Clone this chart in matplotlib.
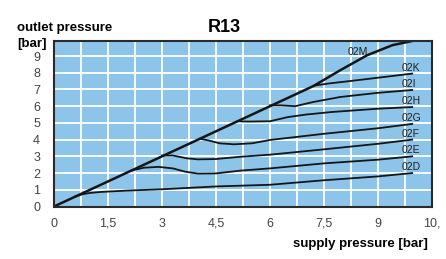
import numpy as np
import matplotlib.pyplot as plt

plt.rcParams['font.family'] = ['Liberation Sans', 'DejaVu Sans']

# curves: supply pressure vs outlet pressure [bar]
supply_02M = [0, 7.2, 7.95, 8.7, 9.4, 9.95]
outlet_02M = [0, 7.2, 8.15, 9.05, 9.65, 9.9]

supply_02K = [7.2, 7.6, 8.6, 9.95]
outlet_02K = [7.22, 7.35, 7.6, 7.95]

supply_02I = [6.0, 6.3, 6.7, 7.2, 7.95, 9.0, 9.95]
outlet_02I = [6.05, 6.05, 6.0, 6.25, 6.55, 6.8, 6.97]

supply_02H = [5.1, 5.4, 6.0, 6.5, 7.0, 7.7, 9.0, 9.95]
outlet_02H = [5.1, 5.08, 5.1, 5.35, 5.5, 5.65, 5.85, 5.95]

supply_02G = [4.05, 4.3, 4.6, 5.0, 5.5, 6.0, 7.5, 9.0, 9.95]
outlet_02G = [4.05, 3.95, 3.78, 3.72, 3.78, 3.98, 4.35, 4.68, 4.94]

supply_02F = [3.0, 3.3, 3.7, 4.0, 4.5, 5.2, 6.0, 7.5, 9.0, 9.95]
outlet_02F = [3.05, 3.05, 2.88, 2.82, 2.84, 2.98, 3.1, 3.42, 3.75, 4.0]

supply_02E = [2.15, 2.5, 2.9, 3.3, 3.65, 4.0, 4.5, 5.2, 6.0, 7.5, 9.0, 9.95]
outlet_02E = [2.15, 2.32, 2.37, 2.28, 2.08, 1.97, 1.98, 2.15, 2.28, 2.58, 2.8, 3.0]

supply_02D = [0.6, 0.8, 1.0, 1.3, 2.0, 3.0, 4.5, 6.0, 7.5, 9.0, 9.95]
outlet_02D = [0.6, 0.74, 0.81, 0.87, 0.95, 1.03, 1.2, 1.3, 1.57, 1.8, 2.0]

names = ['02K', '02I', '02H', '02G', '02F', '02E', '02D']
curves_x = [supply_02K, supply_02I, supply_02H, supply_02G, supply_02F, supply_02E, supply_02D]
curves_y = [outlet_02K, outlet_02I, outlet_02H, outlet_02G, outlet_02F, outlet_02E, outlet_02D]

xticks = [0, 1.5, 3, 4.5, 6, 7.5, 9, 10.5]
xticklabels = ['0', '1,5', '3', '4,5', '6', '7,5', '9', '10,']
yticks = list(range(10))

fig = plt.figure(figsize=(4.46, 2.59), dpi=100)
ax = fig.add_axes([54/446, 1 - 206.5/259, (432 - 54)/446, (206.5 - 41)/259])
ax.set_facecolor('#8dc5ea')

ax.plot(supply_02M, outlet_02M, color='#151515', lw=1.8, solid_capstyle='butt')
for cx, cy in zip(curves_x, curves_y):
    ax.plot(cx, cy, color='#151515', lw=1.3)

# curve labels just above each curve end
ax.text(8.45, 9.25, '02M', fontsize=7.5, color='#1e1e1e', ha='center', va='center')
for name, cx, cy in zip(names, curves_x, curves_y):
    ax.text(9.66, cy[-1] + 0.35, name, fontsize=7.5, color='#1e1e1e',
            ha='left', va='center')

ax.set_xlim(0, 10.5)
ax.set_ylim(0, 9.9)
ax.set_xticks(xticks)
ax.set_xticklabels(xticklabels)
ax.set_xticks(np.arange(0.75, 10.5, 1.5), minor=True)
ax.set_yticks(yticks)
ax.grid(True, which='both', color='white', lw=1.3)
ax.set_axisbelow(True)
ax.tick_params(which='both', length=0, labelsize=9, labelcolor='#444')
ax.tick_params(axis='x', pad=14.5)
ax.tick_params(axis='y', pad=10)
for lab in ax.get_xticklabels():
    lab.set_va('baseline')
for s in ax.spines.values():
    s.set_color('#2a2a2a')
    s.set_linewidth(1.5)

fig.text(17/446, 1 - 28/259, 'outlet pressure', fontsize=9.5, fontweight='bold',
         ha='left', va='center')
fig.text(17/446, 1 - 44/259, '[bar]', fontsize=9.5, fontweight='bold',
         ha='left', va='center')
fig.text(224/446, 1 - 27/259, 'R13', fontsize=13, fontweight='bold',
         ha='center', va='center')
fig.text(428/446, 1 - 244/259, 'supply pressure [bar]', fontsize=9.5,
         fontweight='bold', ha='right', va='center')

fig.savefig('out.png', dpi=100)
